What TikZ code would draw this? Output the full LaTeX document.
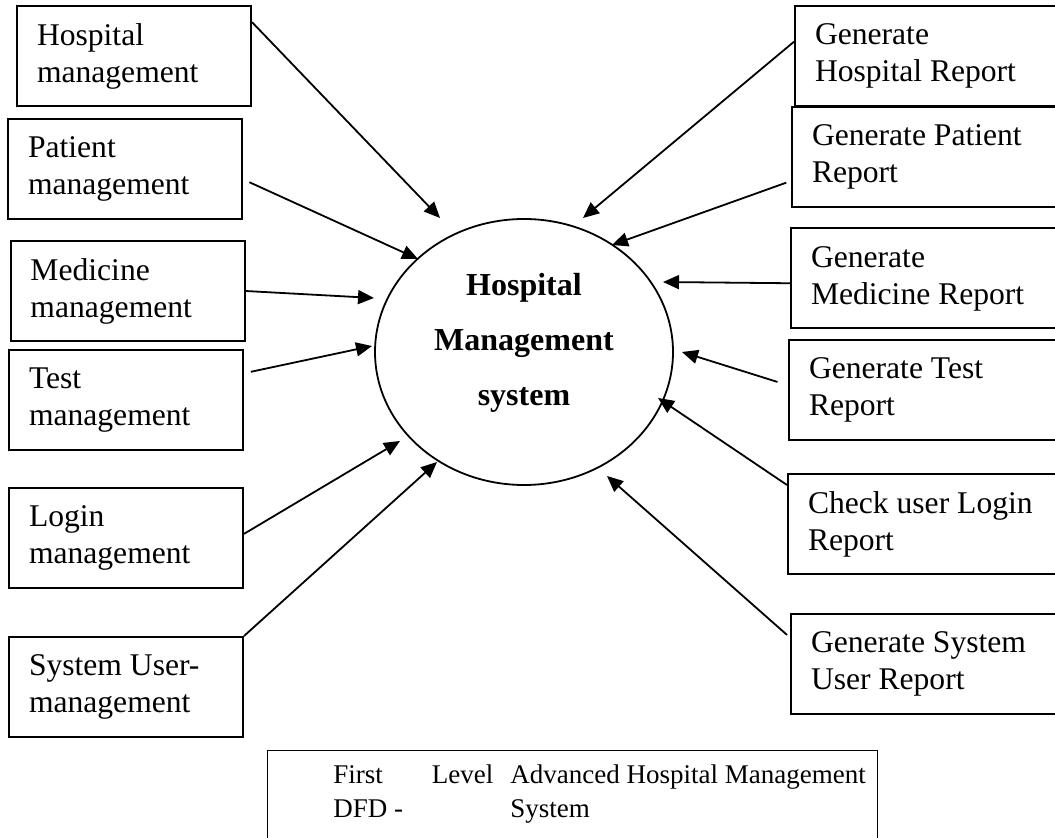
\documentclass[tikz,border=0pt]{standalone}
\usepackage{fontspec}
\setmainfont{Liberation Serif}
\usetikzlibrary{arrows.meta, shapes.geometric, positioning}
\tikzset{>={Triangle[length=8pt,width=7pt]}}
\tikzset{
  lbox/.style={draw, line width=1pt, rectangle, minimum height=50pt, text width=97pt,
    inner xsep=10pt, align=flush left, font=\fontsize{15.8}{18.5}\selectfont},
  rbox/.style={lbox, text width=115pt},
  flow/.style={line width=0.9pt, ->},
  captext/.style={anchor=base west, inner sep=0pt, align=flush left, font=\fontsize{13.5}{17}\selectfont}
}

\begin{document}
\begin{tikzpicture}[x=0.5pt, y=-0.5pt]
  \useasboundingbox (0,0) rectangle (1055,838);

  % central process
  \node[draw, ellipse, line width=0.9pt, minimum width=149pt, minimum height=133pt, inner sep=0pt] (hms) at (524,352) {};
  \node[align=center, font=\fontsize{16}{27.5}\selectfont\bfseries] (hmstext) at (524,343) {Hospital\\Management\\system};

  % left side
  \node[lbox] (hm) at (134,56) {Hospital\\management};
  \node[lbox] (pm) at (125,169) {Patient\\management};
  \node[lbox] (mm) at (127.5,291) {Medicine\\management};
  \node[lbox] (tm) at (126,400.5) {Test\\management};
  \node[lbox] (lm) at (126,538) {Login\\management};
  \node[lbox] (sm) at (126,687) {System User-\\management};

  % right side
  \node[rbox] (gh) at (930,56) {Generate\\Hospital Report};
  \node[rbox] (gp) at (927,157) {Generate Patient\\Report};
  \node[rbox] (gm) at (926,278.5) {Generate\\Medicine Report};
  \node[rbox] (gt) at (924,390) {Generate Test\\Report};
  \node[rbox] (gl) at (923,524) {Check user Login\\Report};
  \node[rbox] (gs) at (926,664) {Generate System\\User Report};

  % arrow tips
  \coordinate (t1) at (440,218);
  \coordinate (t2) at (418,259);
  \coordinate (t3) at (374,298);
  \coordinate (t4) at (372,346);
  \coordinate (t5) at (400,441);
  \coordinate (t6) at (437,462);
  \coordinate (r1) at (583,218);
  \coordinate (r2) at (612,245);
  \coordinate (r3) at (663,282);
  \coordinate (r4) at (682,352);
  \coordinate (r5) at (658,398);
  \coordinate (r6) at (607,476);

  \draw[flow] (hm.16) -- (t1);
  \draw[flow, shorten <=3.5pt] (pm.-5) -- (t2);
  \draw[flow] (mm.east) -- (t3);
  \draw[flow, shorten <=3.5pt] (tm.13) -- (t4);
  \draw[flow] (lm.2) -- (t5);
  \draw[flow] (sm.north east) -- (t6);

  \draw[flow] (gh.174) -- (r1);
  \draw[flow, shorten <=2.5pt] (gp.190) -- (r2);
  \draw[flow] (gm.182) -- (r3);
  \draw[flow, shorten <=5.5pt] (gt.178) -- (r4);
  \draw[flow] (gl.164) -- (r5);
  \draw[flow, shorten <=2pt] (gs.169) -- (r6);

  % caption
  \node[draw, line width=0.6pt, anchor=north west, minimum width=305pt, minimum height=50pt, inner sep=0pt] (capbox) at (267,750) {};
  \node[captext, text width=80pt] (cap1) at (333,784) {First\hfill Level\\DFD -};
  \node[captext, text width=180pt] (cap2) at (510,784) {Advanced Hospital Management\\System};
\end{tikzpicture}
\end{document}
